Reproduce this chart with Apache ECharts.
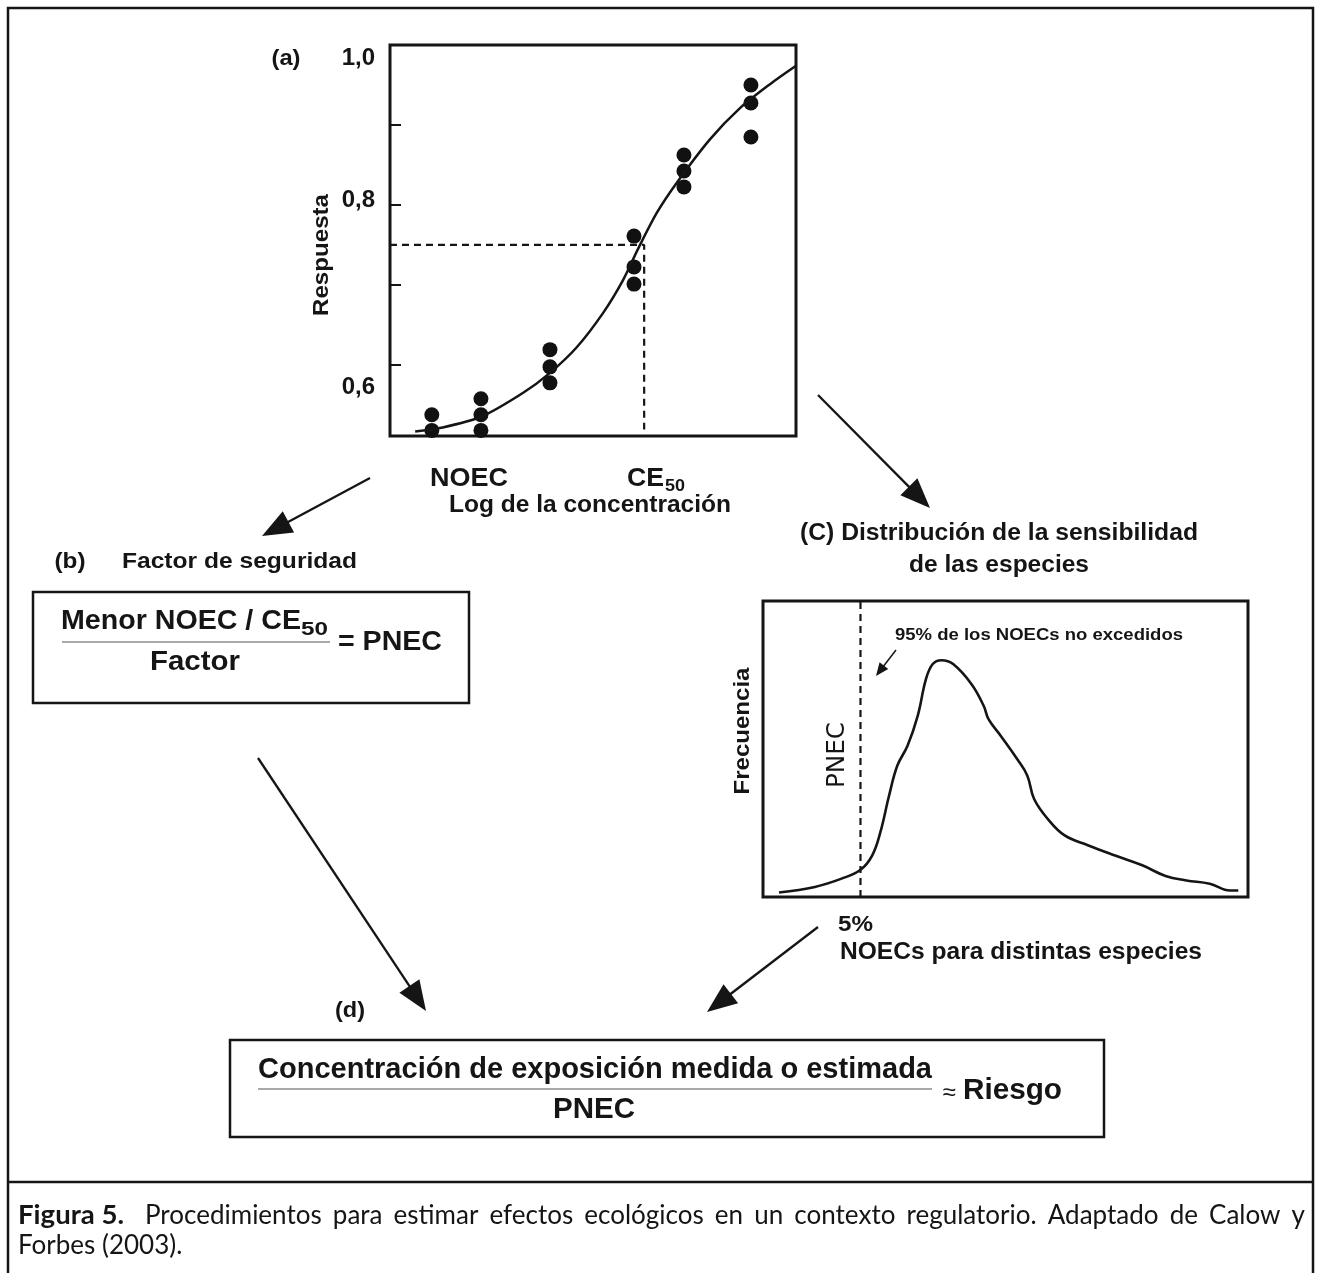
<!DOCTYPE html>
<html><head><meta charset="utf-8">
<script src="https://cdn.jsdelivr.net/npm/echarts@6/dist/echarts.min.js"></script>
<style>html,body{margin:0;padding:0;background:#fff}#c{width:1320px;height:1273px}</style>
</head><body><div id="c"></div>
<script>
// ---- Panel (a): dose-response data ----
const concLog   = [1.03, 2.24, 3.94, 6.01, 7.24, 8.89];
const respRep1  = [0.5375, 0.5575, 0.619, 0.761, 0.8625, 0.95];
const respRep2  = [0.518, 0.5375, 0.5975, 0.7225, 0.8425, 0.9275];
const respRep3  = [null, 0.518, 0.5775, 0.701, 0.8225, 0.885];
const fitX = [0.62, 1.23, 2.26, 3.28, 3.94, 4.6, 5.25, 5.74, 6.11, 6.57, 7.06, 7.88, 8.62, 9.36, 10];
const fitY = [0.5166, 0.5209, 0.5354, 0.565, 0.59, 0.622, 0.665, 0.706, 0.745, 0.79, 0.8275, 0.882, 0.921, 0.951, 0.974];
const ce50X = 6.26, ce50Y = 0.75, respMin = 0.511, respMax = 1.0;
const respTicks  = [0.6, 0.7, 0.8, 0.9, 1.0];
const respLabels = [0.6, 0.8, 1.0];
// ---- Panel (c): species sensitivity distribution ----
const ssdX = [3.3, 10.7, 16.2, 20.1, 22.5, 24.2, 26, 27.7, 29.8, 31.9, 33.6, 35, 36.8, 39.2, 43, 45.5, 46.5, 49, 52.4, 54.5, 55.9, 58.7, 62.2, 67.1, 72.6, 78.2, 83, 87.3, 92.1, 96.3, 98];
const ssdY = [1.5, 3.4, 6.2, 9.2, 14, 21.9, 34.3, 44.4, 51.1, 61.2, 73.6, 78.7, 80, 78.7, 71.9, 64.6, 60.1, 54.5, 46.6, 41, 33.1, 26.4, 20.8, 17.4, 14, 10.7, 7.1, 5.6, 4.5, 2.2, 2.2];
const pnecX = 20.1;

const C = '#151515';
const SANS = '"Liberation Sans", Arial, sans-serif';
const NARROW = '"Liberation Sans Narrow", "DejaVu Sans Condensed", "Liberation Sans", sans-serif';
const CAP = 'Lato, "Open Sans", sans-serif';

const cv = document.createElement('canvas').getContext('2d');
function measure(str, size, weight, family){ cv.font = weight + ' ' + size + 'px ' + family; return cv.measureText(str).width; }
function T(str, x, y, o){
  o = o || {};
  const size = o.size || 21, weight = o.weight || 'bold', family = o.family || SANS;
  let sx = 1;
  if (o.w) sx = o.w / measure(str, size, weight, family);
  return {type:'text', x:x, y:y, rotation:o.rot||0, scaleX:sx, z:10,
    style:{text:str, fontSize:size, fontWeight:weight, fontFamily:family, fill:o.color||C,
      align:o.align||'left', verticalAlign:'middle'}};
}
function arrow(x1,y1,x2,y2,hl,hw,lw){
  const dx=x2-x1, dy=y2-y1, L=Math.hypot(dx,dy), ux=dx/L, uy=dy/L;
  const bx=x2-ux*hl, by=y2-uy*hl, px=-uy, py=ux;
  return [
    {type:'line', z:10, shape:{x1:x1,y1:y1,x2:bx+ux*2,y2:by+uy*2}, style:{stroke:C,lineWidth:lw}},
    {type:'polygon', z:10, shape:{points:[[x2,y2],[bx+px*hw/2,by+py*hw/2],[bx-px*hw/2,by-py*hw/2]]}, style:{fill:C}}
  ];
}
function rect(x,y,w,h,lw){ return {type:'rect', z:5, shape:{x:x,y:y,width:w,height:h}, style:{fill:null, stroke:C, lineWidth:lw}}; }
function hline(x1,x2,y,lw,col){ return {type:'line', z:10, shape:{x1:x1,y1:y,x2:x2,y2:y}, style:{stroke:col||C, lineWidth:lw}}; }

const g = [];
// outer frame and separator
g.push(rect(8, 8, 1305, 1290, 2.5));
g.push(hline(8, 1313, 1182, 2.5));
// panel (a) texts
g.push(T('(a)', 286, 59, {size:22, align:'center', w:29}));
g.push(T('Respuesta', 322, 255, {size:22, rot:Math.PI/2, align:'center', w:122}));
g.push(T('NOEC', 469, 479, {size:25, align:'center', w:78}));
g.push(T('CE', 627, 479, {size:25, w:37}));
g.push(T('50', 665, 486, {size:17, w:20}));
g.push(T('Log de la concentración', 449, 506, {size:23, w:282}));
// panel (b)
g.push(T('(b)', 70, 562, {size:22, align:'center', w:31}));
g.push(T('Factor de seguridad', 122, 562, {size:22, w:235}));
g.push(rect(33, 592, 436, 111, 2.5));
g.push(T('Menor NOEC / CE', 61, 622, {size:27, w:240}));
g.push(T('50', 301, 630, {size:19, w:27}));
g.push(hline(62, 330, 642, 1.2, '#555'));
g.push(T('Factor', 195, 663, {size:27, align:'center', w:90}));
g.push(T('= PNEC', 338, 643, {size:27, w:104}));
// panel (c)
g.push(T('(C) Distribución de la sensibilidad', 999, 534, {size:23, align:'center', w:398}));
g.push(T('de las especies', 999, 566, {size:23, align:'center', w:180}));
g.push(T('Frecuencia', 743, 731, {size:22, rot:Math.PI/2, align:'center', w:127}));
g.push(T('PNEC', 838, 755, {size:24, weight:'normal', family:NARROW, rot:Math.PI/2, align:'center', w:66}));
g.push(T('95% de los NOECs no excedidos', 895, 635, {size:17, w:288}));
g.push(T('5%', 838, 925, {size:22, w:35}));
g.push(T('NOECs para distintas especies', 840, 953, {size:23, w:362}));
// panel (d)
g.push(T('(d)', 350, 1011, {size:22, align:'center', w:30}));
g.push(rect(230, 1040, 874, 97, 2.5));
g.push(T('Concentración de exposición medida o estimada', 258, 1070, {size:30, w:674}));
g.push(hline(258, 932, 1089, 1.2, '#555'));
g.push(T('PNEC', 594, 1110, {size:30, align:'center', w:82}));
g.push(T('≈', 949, 1093, {size:24, weight:'normal', align:'center'}));
g.push(T('Riesgo', 963, 1091, {size:30, w:99}));
// arrows
arrow(370,478,262,536,30,24,2.3).forEach(e=>g.push(e));
arrow(818,395,930,508,30,24,2.3).forEach(e=>g.push(e));
arrow(258,758,426,1011,30,24,2.3).forEach(e=>g.push(e));
arrow(818,927,707,1012,30,24,2.3).forEach(e=>g.push(e));
arrow(896,650,876,676,13,11,1.5).forEach(e=>g.push(e));
// caption (justified first line)
(function(){
  const size = 26, y1 = 1216, y2 = 1246;
  g.push(T('Figura 5.', 18, y1, {size:size, weight:'bold', family:CAP, w:106}));
  const words = ['Procedimientos','para','estimar','efectos','ecológicos','en','un','contexto','regulatorio.','Adaptado','de','Calow','y'];
  const x0 = 145, x1 = 1305;
  const ws = words.map(w=>measure(w, size, 'normal', CAP));
  const tot = ws.reduce((a,b)=>a+b,0);
  const gap = (x1 - x0 - tot) / (words.length - 1);
  let x = x0;
  words.forEach((w,i)=>{ g.push(T(w, x, y1, {size:size, weight:'normal', family:CAP})); x += ws[i] + gap; });
  g.push(T('Forbes (2003).', 18, y2, {size:size, weight:'normal', family:CAP}));
})();

const zip = (xs, ys) => xs.map((x,i)=>[x, ys[i]]).filter(p=>p[1]!=null);
const dots = zip(concLog, respRep1).concat(zip(concLog, respRep2), zip(concLog, respRep3));
const labelKey = {'0,6':'lo', '0,8':'mid', '1,0':'hi'};

const chart = echarts.init(document.getElementById('c'), null, {renderer:'canvas'});
chart.setOption({
  animation:false,
  backgroundColor:'#fff',
  grid:[
    {left:390, top:45, width:406, height:391, show:true, borderColor:C, borderWidth:3, backgroundColor:'transparent'},
    {left:763, top:601, width:485, height:296, show:true, borderColor:C, borderWidth:3, backgroundColor:'transparent'}
  ],
  xAxis:[
    {type:'value', gridIndex:0, min:0, max:10, axisLine:{show:false}, axisTick:{show:false}, axisLabel:{show:false}, splitLine:{show:false}},
    {type:'value', gridIndex:1, min:0, max:100, axisLine:{show:false}, axisTick:{show:false}, axisLabel:{show:false}, splitLine:{show:false}}
  ],
  yAxis:[
    {type:'value', gridIndex:0, min:respMin, max:respMax,
      axisLine:{show:false},
      axisTick:{show:true, inside:true, length:11, lineStyle:{color:C, width:2}, customValues:respTicks},
      axisLabel:{show:true, customValues:respLabels, margin:15, color:C, fontSize:24, fontWeight:'bold', fontFamily:SANS,
        formatter:v=>{ const s = Number(v).toFixed(1).replace('.', ','); return '{' + labelKey[s] + '|' + s + '}'; },
        rich:{
          hi:{fontSize:24, fontWeight:'bold', fontFamily:SANS, color:C, padding:[26,0,0,0]},
          mid:{fontSize:24, fontWeight:'bold', fontFamily:SANS, color:C, padding:[0,0,10,0]},
          lo:{fontSize:24, fontWeight:'bold', fontFamily:SANS, color:C, padding:[46,0,0,0]}
        }},
      splitLine:{show:false}},
    {type:'value', gridIndex:1, min:0, max:100, axisLine:{show:false}, axisTick:{show:false}, axisLabel:{show:false}, splitLine:{show:false}}
  ],
  series:[
    {type:'line', xAxisIndex:0, yAxisIndex:0, data:zip(fitX, fitY), smooth:0.3, showSymbol:false, lineStyle:{color:C, width:2.5}},
    {type:'line', xAxisIndex:0, yAxisIndex:0, data:[[0, ce50Y],[ce50X, ce50Y],[ce50X, respMin+0.008]], showSymbol:false, lineStyle:{color:C, width:2.2, type:[7,5]}},
    {type:'scatter', xAxisIndex:0, yAxisIndex:0, data:dots, symbolSize:15, itemStyle:{color:'#111', opacity:1}, clip:false},
    {type:'line', xAxisIndex:1, yAxisIndex:1, data:zip(ssdX, ssdY), smooth:0.4, showSymbol:false, lineStyle:{color:C, width:2.6}},
    {type:'line', xAxisIndex:1, yAxisIndex:1, data:[[pnecX,0],[pnecX,100]], showSymbol:false, lineStyle:{color:C, width:2.2, type:[7,5]}}
  ],
  graphic:g
});
</script></body></html>
